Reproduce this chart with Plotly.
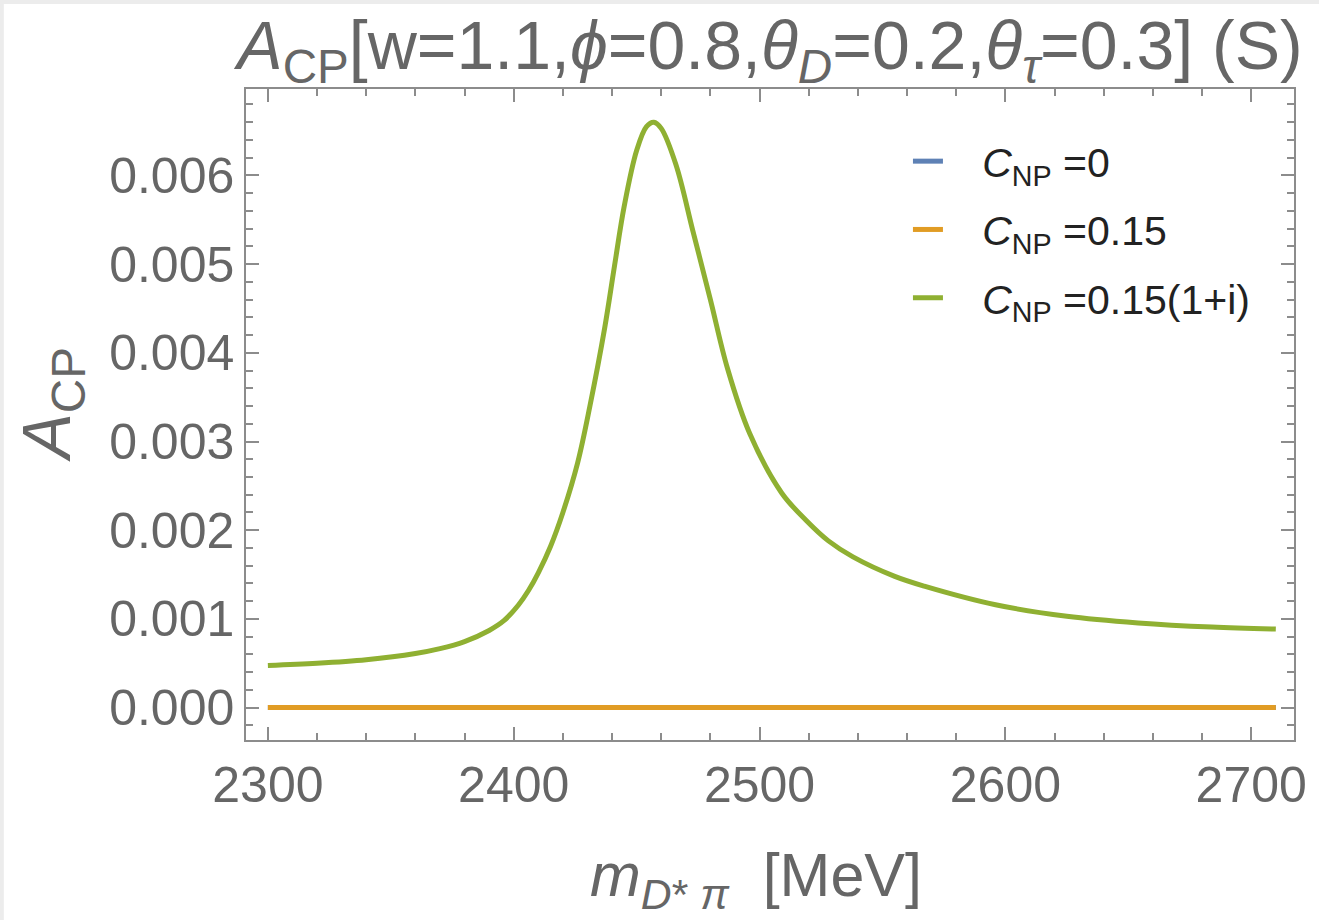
import plotly.graph_objects as go

# ----------------------------- data -----------------------------
mass = [2300, 2320, 2340, 2360, 2370, 2380, 2390, 2396, 2402, 2406, 2410, 2415, 2420,
        2426, 2431, 2437, 2441, 2445, 2450, 2454, 2457, 2460, 2466, 2473, 2480,
        2487, 2496, 2509, 2519, 2528, 2538, 2555, 2567, 2596, 2625, 2654, 2684, 2710]
acp_complex = [0.000475, 0.000500, 0.000540, 0.000610, 0.000665, 0.000745, 0.000870,
               0.000980, 0.001160, 0.001320, 0.001520, 0.001820, 0.002200, 0.002760,
               0.003400, 0.004280, 0.004980, 0.005660, 0.006280, 0.006550, 0.006600,
               0.006530, 0.006120, 0.005360, 0.004600, 0.003820, 0.003090, 0.002420,
               0.002110, 0.001880, 0.001700, 0.001480, 0.001370, 0.001160, 0.001030,
               0.000955, 0.000908, 0.000885]
mass_flat = [2300, 2710]
acp_zero = [0.0, 0.0]
acp_real = [0.0, 0.0]

names = ['&nbsp;&nbsp;&nbsp;<i>C</i><sub>NP</sub> =0',
         '&nbsp;&nbsp;&nbsp;<i>C</i><sub>NP</sub> =0.15',
         '&nbsp;&nbsp;&nbsp;<i>C</i><sub>NP</sub> =0.15(1+i)']
colors = ['#5e81b5', '#e19c24', '#8fb032']

x_ticks = [2300, 2400, 2500, 2600, 2700]
y_ticks = [0.000, 0.001, 0.002, 0.003, 0.004, 0.005, 0.006]

GRAY = '#666666'
FRAME = '#8c8c8c'
FONT = 'Liberation Sans, Arial, sans-serif'

# ----------------------------- figure -----------------------------
fig = go.Figure()
fig.add_trace(go.Scatter(x=mass_flat, y=acp_zero, mode='lines', name=names[0],
                         legendgroup='a', line=dict(color=colors[0], width=5)))
fig.add_trace(go.Scatter(x=mass_flat, y=acp_real, mode='lines', name=names[1],
                         legendgroup='b', line=dict(color=colors[1], width=5)))
fig.add_trace(go.Scatter(x=mass, y=acp_complex, mode='lines', name=names[2],
                         legendgroup='c',
                         line=dict(color=colors[2], width=5, shape='spline', smoothing=1.0)))

axis_common = dict(
    showline=True, linecolor=FRAME, linewidth=1.5, mirror='ticks',
    ticks='inside', ticklen=13, tickwidth=1.5, tickcolor=FRAME,
    showgrid=False, zeroline=False,
    tickfont=dict(family=FONT, size=50, color=GRAY),
)

fig.update_xaxes(
    range=[2291.1, 2717.4], tickvals=x_ticks, ticklabelstandoff=0,
    minor=dict(ticks='inside', ticklen=7, tickwidth=1.5, tickcolor=FRAME, dtick=20,
               tick0=2300, showgrid=False),
    **axis_common,
)
fig.update_yaxes(
    range=[-0.000365, 0.006974], tickvals=y_ticks, tickformat='.3f', ticklabelstandoff=0,
    minor=dict(ticks='inside', ticklen=7, tickwidth=1.5, tickcolor=FRAME, dtick=0.0002,
               tick0=0, showgrid=False),
    **axis_common,
)

# white page with the thin grey strip along the top and left edges
fig.add_shape(type='rect', xref='paper', yref='paper', layer='below',
              x0=(2 - 246) / 1056, x1=(1330 - 246) / 1056,
              y0=(740 - 930) / 651, y1=(740 - 4) / 651,
              fillcolor='white', line=dict(width=0))

fig.add_annotation(
    text='<i>A</i><sub>CP</sub>', xref='paper', yref='paper',
    x=(50 - 246) / 1056, y=(740 - 405) / 651, xanchor='center', yanchor='middle',
    textangle=-90, showarrow=False,
    font=dict(family=FONT, size=68, color=GRAY),
)
fig.add_annotation(
    text='<i>m</i><sub><i>D</i>* <i>π</i></sub>  [MeV]', xref='paper', yref='paper',
    x=(760 - 246) / 1056, y=(740 - 879) / 651, xanchor='center', yanchor='middle',
    showarrow=False,
    font=dict(family=FONT, size=61, color=GRAY),
)

fig.update_layout(
    width=1319, height=920,
    margin=dict(l=246, r=17, t=89, b=180),
    paper_bgcolor='#ececec', plot_bgcolor='rgba(0,0,0,0)',
    title=dict(
        text='<i>A</i><sub>CP</sub>[w=1.1,<i>ϕ</i>=0.8,<i>θ</i><sub><i>D</i></sub>=0.2,'
             '<i>θ</i><sub><i>τ</i></sub>=0.3] (S)',
        x=0.5, xref='paper', xanchor='center', y=1 - 45 / 920, yanchor='middle',
        font=dict(family=FONT, size=68, color=GRAY),
    ),
    legend=dict(
        x=(913 - 246) / 1056, y=(740 - 128) / 651, xanchor='left', yanchor='top',
        bgcolor='rgba(0,0,0,0)', font=dict(family=FONT, size=41, color='#222222'),
        tracegroupgap=12, itemwidth=30,
    ),
    showlegend=True,
)

fig.write_html('out.html', config={'displayModeBar': False},
               post_script="document.body.style.margin='0';"
                           "document.body.style.overflow='hidden';")
